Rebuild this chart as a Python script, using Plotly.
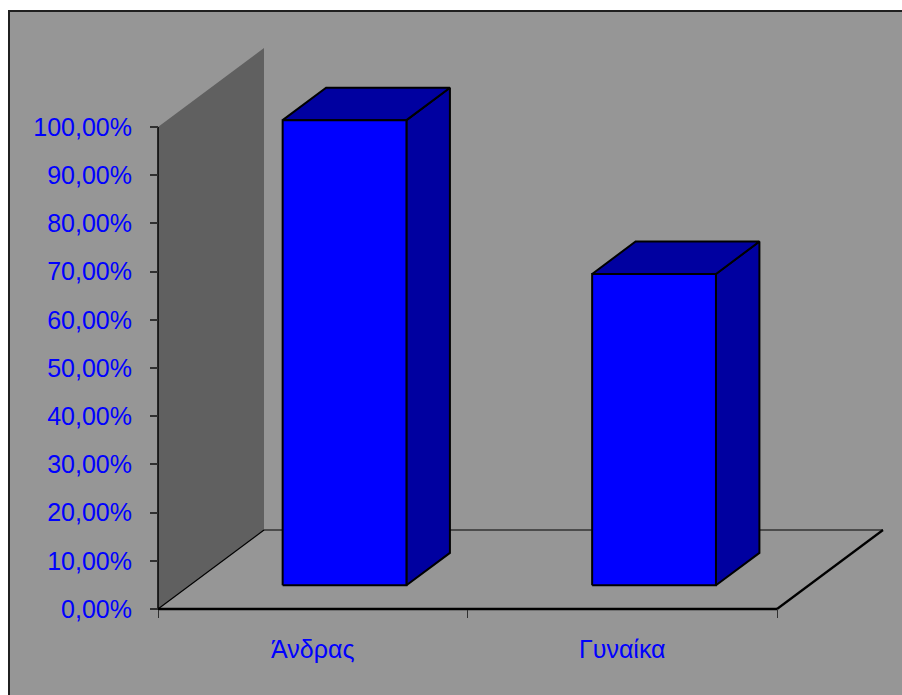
import plotly.graph_objects as go

# ---- data ----
categories = ["Άνδρας", "Γυναίκα"]
values = [0.965, 0.646]
ytick_vals = [0, 0.1, 0.2, 0.3, 0.4, 0.5, 0.6, 0.7, 0.8, 0.9, 1.0]
ytick_text = ["0,00%", "10,00%", "20,00%", "30,00%", "40,00%", "50,00%",
              "60,00%", "70,00%", "80,00%", "90,00%", "100,00%"]

# ---- style / geometry constants ----
W, H = 902, 695
X0_PX, Y0_PX = 158, 609          # origin of value axis
CAT_PX = 309.5                   # pixels per category
VAL_PX = 482                     # pixels per 100%
DDX = 106 / CAT_PX               # depth offset (data units)
DDY = 79 / VAL_PX
BAR_U0, BAR_U1 = 0.30, 0.70      # bar extent inside category
BAR_D0, BAR_D1 = 0.30, 0.71      # bar extent in depth

BG = "#969696"
WALL = "#606060"
FRONT = "#0000FF"
SHADE = "#0000A0"
TXT = "#0000FF"
FONT = "Arial, Liberation Sans, sans-serif"
FS = 25

ncat = len(categories)


def P(u, v, d):
    return (u + d * DDX, v + d * DDY)


def poly(pts, fill, lw=0, lc="black"):
    xs = [p[0] for p in pts] + [pts[0][0]]
    ys = [p[1] for p in pts] + [pts[0][1]]
    return go.Scatter(x=xs, y=ys, mode="lines", fill="toself", fillcolor=fill,
                      line=dict(color=lc if lw else "rgba(0,0,0,0)", width=lw),
                      hoverinfo="skip", showlegend=False)


def seg(a, b, lw, lc="black"):
    return go.Scatter(x=[a[0], b[0]], y=[a[1], b[1]], mode="lines",
                      line=dict(color=lc, width=lw), hoverinfo="skip",
                      showlegend=False)


fig = go.Figure()

# side wall
fig.add_trace(poly([P(0, 0, 0), P(0, 0, 1), P(0, 1, 1), P(0, 1, 0)], WALL))
# floor
fig.add_trace(poly([P(0, 0, 0), P(ncat, 0, 0), P(ncat, 0, 1), P(0, 0, 1)], BG))
fig.add_trace(seg(P(0, 0, 1), P(ncat, 0, 1), 1.2))
fig.add_trace(seg(P(0, 0, 0), P(0, 0, 1), 1.2))
fig.add_trace(seg(P(ncat, 0, 0), P(ncat, 0, 1), 2.2))

# bars
for i, v in enumerate(values):
    u0, u1 = i + BAR_U0, i + BAR_U1
    d0, d1 = BAR_D0, BAR_D1
    fig.add_trace(poly([P(u1, 0, d0), P(u1, 0, d1), P(u1, v, d1), P(u1, v, d0)], SHADE, 2))
    fig.add_trace(poly([P(u0, v, d0), P(u1, v, d0), P(u1, v, d1), P(u0, v, d1)], SHADE, 2))
    fig.add_trace(poly([P(u0, 0, d0), P(u1, 0, d0), P(u1, v, d0), P(u0, v, d0)], FRONT, 2))

# axis lines
fig.add_trace(seg(P(0, 0, 0), P(0, 1, 0), 1.5))
fig.add_trace(seg(P(0, 0, 0), P(ncat, 0, 0), 2.6))

xr = [-X0_PX / CAT_PX, (W - X0_PX) / CAT_PX]
yr = [-(H - Y0_PX) / VAL_PX, Y0_PX / VAL_PX]

fig.update_layout(
    width=W, height=H,
    margin=dict(l=0, r=0, t=0, b=0),
    paper_bgcolor="white",
    plot_bgcolor="rgba(0,0,0,0)",
    showlegend=False,
    font=dict(family=FONT, size=FS, color=TXT),
    shapes=[dict(type="rect", xref="paper", yref="paper",
                 x0=9 / W, x1=1.3, y0=-0.3, y1=1 - 11 / H,
                 fillcolor=BG, line=dict(color="#202020", width=2),
                 layer="below")],
    xaxis=dict(range=xr, showgrid=False, zeroline=False, showline=False,
               tickmode="array", tickvals=[i + 0.5 for i in range(ncat)],
               ticktext=categories, ticks="", anchor="free",
               position=(H - Y0_PX) / H, ticklabelstandoff=23,
               tickfont=dict(family=FONT, size=FS, color=TXT),
               minor=dict(tickmode="array", tickvals=list(range(ncat + 1)),
                          ticks="outside", ticklen=8, tickcolor="#303030",
                          tickwidth=1, showgrid=False),
               fixedrange=True),
    yaxis=dict(range=yr, showgrid=False, zeroline=False, showline=False,
               tickmode="array", tickvals=ytick_vals, ticktext=ytick_text,
               ticks="outside", ticklen=8, tickcolor="#303030", tickwidth=2,
               anchor="free", position=X0_PX / W, ticklabelstandoff=13,
               tickfont=dict(family=FONT, size=FS, color=TXT),
               fixedrange=True),
)

fig.write_html("out.html", config={"displayModeBar": False})
